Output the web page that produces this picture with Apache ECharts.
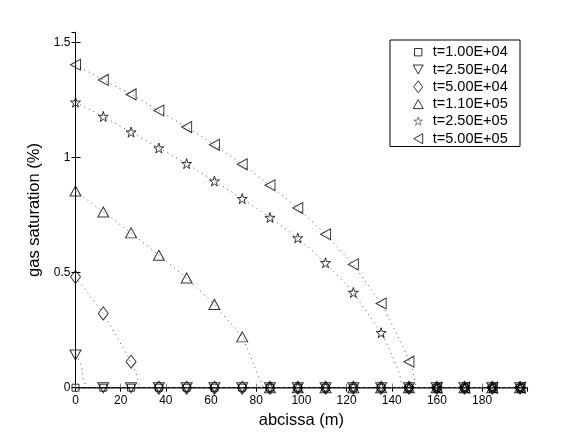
<!DOCTYPE html>
<html>
<head>
<meta charset="utf-8">
<script src="https://cdn.jsdelivr.net/npm/echarts@6/dist/echarts.min.js"></script>
<style>
html,body{margin:0;padding:0;background:#fff;}
#chart{width:581px;height:437px;}
</style>
</head>
<body>
<div id="chart"></div>
<script>
// abscissa of the marker nodes (m)
const xs = [0, 12.3, 24.6, 36.9, 49.2, 61.5, 73.8, 86.1, 98.4, 110.7, 123, 135.3, 147.6, 159.9, 172.2, 184.5, 196.8];
// gas saturation (%) at marker nodes
const sat1e4  = [0, 0, 0, 0, 0, 0, 0, 0, 0, 0, 0, 0, 0, 0, 0, 0, 0];
const sat25e4 = [0.142, 0, 0, 0, 0, 0, 0, 0, 0, 0, 0, 0, 0, 0, 0, 0, 0];
const sat5e4  = [0.482, 0.323, 0.113, 0, 0, 0, 0, 0, 0, 0, 0, 0, 0, 0, 0, 0, 0];
const sat11e5 = [0.855, 0.764, 0.673, 0.576, 0.477, 0.362, 0.221, 0, 0, 0, 0, 0, 0, 0, 0, 0, 0];
const sat25e5 = [1.241, 1.179, 1.111, 1.042, 0.974, 0.898, 0.822, 0.740, 0.651, 0.543, 0.414, 0.239, 0, 0, 0, 0, 0];
const sat5e5  = [1.404, 1.338, 1.275, 1.205, 1.133, 1.056, 0.971, 0.880, 0.781, 0.667, 0.536, 0.366, 0.113, 0, 0, 0, 0];

// dotted reference curves
const cX1e4  = [0, 200];
const cY1e4  = [0, 0];
const cX25e4 = [0, 1.5, 2.7, 3.4, 4.2, 4.8, 200];
const cY25e4 = [0.142, 0.12, 0.091, 0.041, 0.02, 0, 0];
const cX5e4  = [0, 12.3, 24.6, 26.3, 27.7, 28.6, 200];
const cY5e4  = [0.482, 0.323, 0.113, 0.077, 0.033, 0, 0];
const cX11e5 = [0, 12.3, 24.6, 36.9, 49.2, 61.5, 73.8, 77, 79.2, 81.4, 83.2, 200];
const cY11e5 = [0.855, 0.764, 0.673, 0.576, 0.477, 0.362, 0.221, 0.149, 0.091, 0.041, 0, 0];
const cX25e5 = [0, 12.3, 24.6, 36.9, 49.2, 61.5, 73.8, 86.1, 98.4, 110.7, 123, 135.3, 138.5, 141, 143.2, 144.8, 200];
const cY25e5 = [1.241, 1.179, 1.111, 1.042, 0.974, 0.898, 0.822, 0.740, 0.651, 0.543, 0.414, 0.239, 0.178, 0.12, 0.069, 0, 0];
const cX5e5  = [0, 12.3, 24.6, 36.9, 49.2, 61.5, 73.8, 86.1, 98.4, 110.7, 123, 135.3, 141.7, 145, 147.6, 149, 150.8, 200];
const cY5e5  = [1.404, 1.338, 1.275, 1.205, 1.133, 1.056, 0.971, 0.880, 0.781, 0.667, 0.536, 0.366, 0.243, 0.175, 0.12, 0.086, 0, 0];

const names = ['t=1.00E+04', 't=2.50E+04', 't=5.00E+04', 't=1.10E+05', 't=2.50E+05', 't=5.00E+05'];
const xTicks = [0, 20, 40, 60, 80, 100, 120, 140, 160, 180];
const yTicks = [0, 0.5, 1, 1.5];

const FONT = "'Liberation Sans', Arial, Helvetica, sans-serif";
const pair = (a, b) => a.map((v, i) => [v, b[i]]);

const STAR = 'path://M50,0 L61,35 L98,35 L68,57 L79,91 L50,70 L21,91 L32,57 L2,35 L39,35 Z';
const symbols = [
  {symbol: 'rect', size: [7, 7]},
  {symbol: 'path://M0,0 L100,0 L50,87 Z', size: [11, 10]},
  {symbol: 'diamond', size: [10, 13]},
  {symbol: 'path://M50,0 L100,87 L0,87 Z', size: [11, 10]},
  {symbol: STAR, size: [10, 10]},
  {symbol: 'path://M0,50 L87,0 L87,100 Z', size: [10, 11]}
];
// legend icons drawn inside a 110x120 box (padded with bare move-to points)
const legendIcons = [
  'path://M0,0 M18,23 L92,23 L92,97 L18,97 Z M110,120',
  'path://M0,0 M5,15 L105,15 L55,105 Z M110,120',
  'path://M0,0 M55,0 L100,60 L55,120 L10,60 Z M110,120',
  'path://M0,0 M55,15 L105,105 L5,105 Z M110,120',
  'path://M0,0 M55,16 L64.9,47.5 L98.2,47.5 L71.2,67.3 L81.1,97.9 L55,79 L28.9,97.9 L38.8,67.3 L11.8,47.5 L45.1,47.5 Z M110,120',
  'path://M0,0 M10,60 L100,10 L100,110 Z M110,120'
];
const legendWidths = [1, 1, 1, 1, 0.6, 1];
const markerData = [sat1e4, sat25e4, sat5e4, sat11e5, sat25e5, sat5e5];
const curves = [[cX1e4, cY1e4], [cX25e4, cY25e4], [cX5e4, cY5e4], [cX11e5, cY11e5], [cX25e5, cY25e5], [cX5e5, cY5e5]];

const series = [];
curves.forEach((c, i) => {
  series.push({
    type: 'line', name: 'curve' + i, data: pair(c[0], c[1]),
    showSymbol: false, silent: true, z: 2,
    lineStyle: {color: '#555', width: 1, type: [1, 4]}
  });
});
markerData.forEach((d, i) => {
  series.push({
    type: 'scatter', name: names[i], data: pair(xs, d),
    symbol: symbols[i].symbol, symbolSize: symbols[i].size, symbolKeepAspect: false,
    z: 3,
    itemStyle: {color: 'rgba(0,0,0,0)', borderColor: '#000', borderWidth: 1}
  });
});

const chart = echarts.init(document.getElementById('chart'), null, {renderer: 'canvas'});
chart.setOption({
  animation: false,
  backgroundColor: '#fff',
  textStyle: {fontFamily: FONT},
  grid: {left: 75.5, right: 53.7, top: 32.3, bottom: 49.3, containLabel: false},
  xAxis: [{
    type: 'value', min: 0, max: 200, interval: 20, position: 'bottom',
    name: 'abcissa (m)', nameLocation: 'middle', nameGap: 20,
    nameTextStyle: {color: '#000', fontSize: 16.5, fontFamily: FONT},
    axisLine: {show: true, lineStyle: {color: '#808080', width: 2}},
    axisTick: {show: true, inside: true, length: 4, lineStyle: {color: '#808080'}},
    axisLabel: {color: '#000', fontSize: 12, fontFamily: FONT, margin: 7, showMaxLabel: false,
      formatter: v => (xTicks.indexOf(v) >= 0 ? String(v) : '')},
    splitLine: {show: false}
  }, {
    type: 'value', min: 0, max: 200, interval: 20, position: 'top',
    axisLine: {show: true, lineStyle: {color: '#000', width: 1}},
    axisTick: {show: true, inside: true, length: 4, lineStyle: {color: '#000'}},
    axisLabel: {show: false}, splitLine: {show: false}
  }],
  yAxis: [{
    type: 'value', min: 0, max: 1.545, interval: 0.5, position: 'left',
    name: 'gas saturation (%)', nameLocation: 'middle', nameGap: 25,
    nameTextStyle: {color: '#000', fontSize: 16.5, fontFamily: FONT},
    axisLine: {show: true, lineStyle: {color: '#000', width: 1}},
    axisTick: {show: true, inside: true, length: 5, lineStyle: {color: '#000'}},
    axisLabel: {color: '#000', fontSize: 12, fontFamily: FONT, margin: 5, showMaxLabel: false,
      formatter: v => (yTicks.indexOf(v) >= 0 ? String(v) : '')},
    splitLine: {show: false}
  }, {
    type: 'value', min: 0, max: 1.545, interval: 0.5, position: 'right',
    axisLine: {show: true, lineStyle: {color: '#000', width: 1}},
    axisTick: {show: true, inside: true, length: 4, lineStyle: {color: '#000'}},
    axisLabel: {show: false}, splitLine: {show: false}
  }],
  legend: {
    data: names.map((n, i) => ({
      name: n, icon: legendIcons[i],
      itemStyle: {color: 'rgba(0,0,0,0)', borderColor: '#000', borderWidth: legendWidths[i]}
    })),
    orient: 'vertical', left: 412.2, top: 44.7,
    itemWidth: 11, itemHeight: 12, itemGap: 2.3, padding: 0,
    formatter: n => ' ' + n,
    textStyle: {color: '#000', fontSize: 14.5, fontFamily: FONT},
    selectedMode: false
  },
  graphic: [{
    type: 'rect', left: 387.5, top: 37.5, z: 100, silent: true,
    shape: {width: 130, height: 106.5},
    style: {fill: 'none', stroke: '#000', lineWidth: 1}
  }],
  series: series
});
</script>
</body>
</html>
